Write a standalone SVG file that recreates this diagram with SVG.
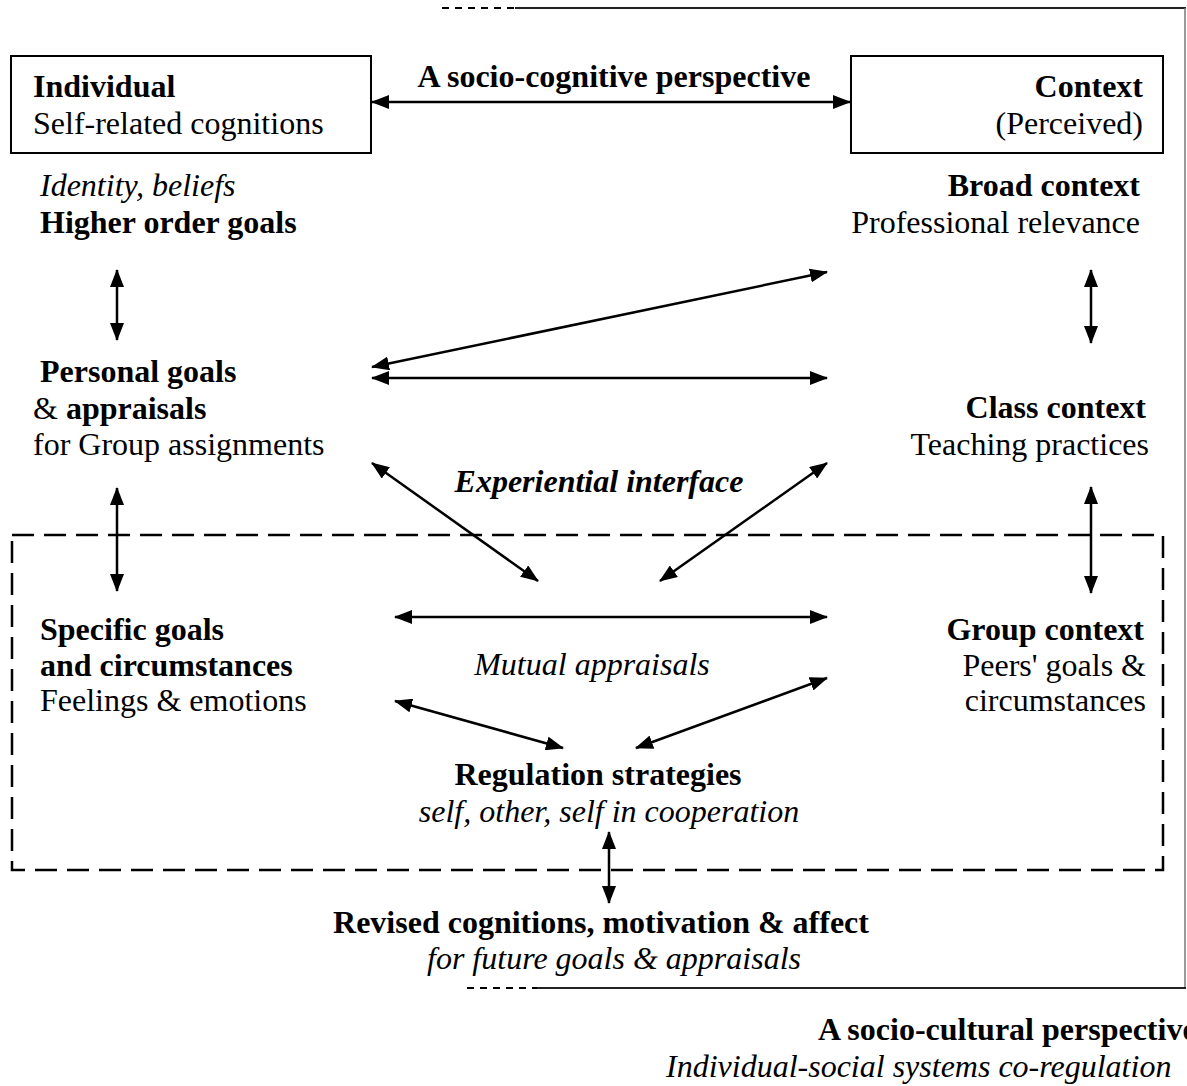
<svg xmlns="http://www.w3.org/2000/svg" width="1187" height="1086" viewBox="0 0 1187 1086">
<style>
text{font-family:"Liberation Serif","Times New Roman",serif;font-size:32px;fill:#000}
.b{font-weight:bold}
.i{font-style:italic}
.e{text-anchor:end}
.m{text-anchor:middle}
.box{fill:#fff;stroke:#000;stroke-width:2}
.arr{stroke:#000;stroke-width:2.5;fill:none;marker-start:url(#ah);marker-end:url(#ah)}
</style>
<defs>
<marker id="ah" viewBox="0 0 18 14" refX="17" refY="7" markerWidth="18" markerHeight="14" markerUnits="userSpaceOnUse" orient="auto-start-reverse">
<path d="M0,0 L18,7 L0,14 z" fill="#000"/>
</marker>
</defs>
<g id="frame">
<line x1="442" y1="8" x2="515" y2="8" stroke="#000" stroke-width="2" stroke-dasharray="7,6"/>
<line x1="515" y1="8" x2="1186" y2="8" stroke="#222" stroke-width="2"/>
<line x1="1185" y1="8" x2="1185" y2="988" stroke="#777" stroke-width="1.5"/>
<line x1="467" y1="988" x2="537" y2="988" stroke="#000" stroke-width="2" stroke-dasharray="7,6"/>
<line x1="537" y1="988" x2="1186" y2="988" stroke="#222" stroke-width="2"/>
</g>
<g id="group-zone">
<rect x="12" y="535" width="1151" height="335" fill="none" stroke="#000" stroke-width="2.5" stroke-dasharray="22,10"/>
</g>
<g id="connectors">
<line class="arr" x1="372" y1="102" x2="850" y2="102"/>
<line class="arr" x1="117" y1="270" x2="117" y2="340"/>
<line class="arr" x1="1091" y1="270" x2="1091" y2="343"/>
<line class="arr" x1="372" y1="367" x2="827" y2="272"/>
<line class="arr" x1="372" y1="378" x2="827" y2="378"/>
<line class="arr" x1="117" y1="488" x2="117" y2="591"/>
<line class="arr" x1="1091" y1="487" x2="1091" y2="593"/>
<line class="arr" x1="372" y1="463" x2="538" y2="581"/>
<line class="arr" x1="827" y1="463" x2="660" y2="581"/>
<line class="arr" x1="395" y1="617" x2="827" y2="617"/>
<line class="arr" x1="395" y1="701" x2="563" y2="748"/>
<line class="arr" x1="827" y1="678" x2="636" y2="748"/>
<line class="arr" x1="609" y1="832" x2="609" y2="903"/>
</g>
<g id="perspective-label">
<text class="b m" x="614" y="87">A socio-cognitive perspective</text>
</g>
<g id="individual">
<rect class="box" x="11" y="56" width="360" height="97"/>
<text class="b" x="33" y="97">Individual</text>
<text x="33" y="134">Self-related cognitions</text>
</g>
<g id="context">
<rect class="box" x="851" y="56" width="312" height="97"/>
<text class="b e" x="1143" y="97">Context</text>
<text class="e" x="1143" y="134">(Perceived)</text>
</g>
<g id="higher-order-goals">
<text class="i" x="40" y="196">Identity, beliefs</text>
<text class="b" x="40" y="233">Higher order goals</text>
</g>
<g id="broad-context">
<text class="b e" x="1140" y="196">Broad context</text>
<text class="e" x="1140" y="233">Professional relevance</text>
</g>
<g id="personal-goals">
<text class="b" x="40" y="382">Personal goals</text>
<text x="33" y="419">&amp; <tspan class="b">appraisals</tspan></text>
<text x="33" y="455">for Group assignments</text>
</g>
<g id="class-context">
<text class="b e" x="1146" y="418">Class context</text>
<text class="e" x="1149" y="455">Teaching practices</text>
</g>
<g id="experiential-interface">
<text class="b i m" x="599" y="492">Experiential interface</text>
</g>
<g id="specific-goals">
<text class="b" x="40" y="640">Specific goals</text>
<text class="b" x="40" y="676">and circumstances</text>
<text x="40" y="711">Feelings &amp; emotions</text>
</g>
<g id="group-context">
<text class="b e" x="1144" y="640">Group context</text>
<text class="e" x="1146" y="676">Peers' goals &amp;</text>
<text class="e" x="1146" y="711">circumstances</text>
</g>
<g id="mutual-appraisals">
<text class="i m" x="592" y="675">Mutual appraisals</text>
</g>
<g id="regulation-strategies">
<text class="b m" x="598" y="785">Regulation strategies</text>
<text class="i m" x="609" y="822">self, other, self in cooperation</text>
</g>
<g id="revised-cognitions">
<text class="b m" x="601" y="933">Revised cognitions, motivation &amp; affect</text>
<text class="i m" x="614" y="969">for future goals &amp; appraisals</text>
</g>
<g id="socio-cultural">
<text class="b" x="818" y="1040">A socio-cultural perspective</text>
<text class="i" x="666" y="1077">Individual-social systems co-regulation</text>
</g>
</svg>
